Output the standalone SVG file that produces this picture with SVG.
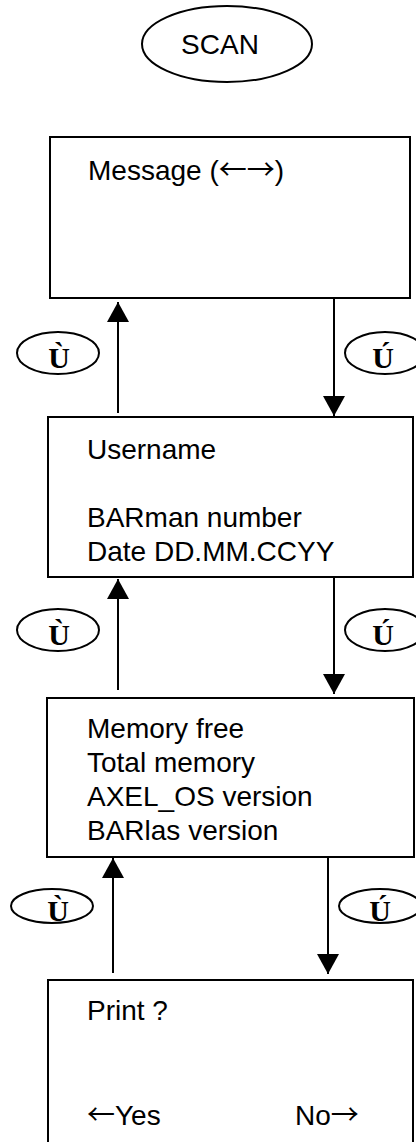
<svg xmlns="http://www.w3.org/2000/svg" width="416" height="1142" viewBox="0 0 416 1142">
<style>
.box{fill:#fff;stroke:#000;stroke-width:2}
.ell{fill:#fff;stroke:#000;stroke-width:2}
.t{font-family:"Liberation Sans",Arial,sans-serif;font-size:28px;fill:#000}
.ar{font-family:"Noto Sans CJK JP",sans-serif;font-size:28px}
.k{font-family:"Liberation Serif","Times New Roman",serif;font-size:30px;font-weight:bold;fill:#000;text-anchor:middle}
.ln{stroke:#000;stroke-width:2;fill:none}
</style>
<defs>
<marker id="ah" viewBox="0 0 20 22" refX="20" refY="11" markerWidth="20" markerHeight="22" markerUnits="userSpaceOnUse" orient="auto">
<path d="M0,0 L20,11 L0,22 Z" fill="#000"/>
</marker>
</defs>
<rect width="416" height="1142" fill="#fff"/>
<g id="scan">
<ellipse class="ell" cx="227" cy="44" rx="85" ry="38"/>
<text class="t" x="220" y="54" text-anchor="middle">SCAN</text>
</g>
<g id="message">
<rect class="box" x="50" y="137" width="360" height="161"/>
<text class="t" x="88" y="180">Message (<tspan class="ar">←→</tspan>)</text>
</g>
<g id="user">
<rect class="box" x="48" y="417" width="365" height="160"/>
<text class="t" x="87" y="459">Username</text>
<text class="t" x="87" y="527">BARman number</text>
<text class="t" x="87" y="561">Date DD.MM.CCYY</text>
</g>
<g id="memory">
<rect class="box" x="47" y="698" width="367" height="159"/>
<text class="t" x="87" y="738">Memory free</text>
<text class="t" x="87" y="772">Total memory</text>
<text class="t" x="87" y="806">AXEL_OS version</text>
<text class="t" x="87" y="840">BARlas version</text>
</g>
<g id="print">
<rect class="box" x="48" y="980" width="365" height="200"/>
<text class="t" x="87" y="1020">Print ?</text>
<text class="t" x="87" y="1125"><tspan class="ar">←</tspan>Yes</text>
<text class="t" x="295" y="1125">No<tspan class="ar">→</tspan></text>
</g>
<g id="connectors">
<line class="ln" x1="118" y1="413" x2="118" y2="302" marker-end="url(#ah)"/>
<line class="ln" x1="334" y1="298" x2="334" y2="416" marker-end="url(#ah)"/>
<line class="ln" x1="118" y1="690" x2="118" y2="579" marker-end="url(#ah)"/>
<line class="ln" x1="334" y1="577" x2="334" y2="694" marker-end="url(#ah)"/>
<line class="ln" x1="113" y1="973" x2="113" y2="858" marker-end="url(#ah)"/>
<line class="ln" x1="328" y1="857" x2="328" y2="974" marker-end="url(#ah)"/>
</g>
<g id="key-up-1"><ellipse class="ell" cx="58" cy="353" rx="41" ry="21"/><text class="k" x="59" y="368">Ù</text></g>
<g id="key-down-1"><ellipse class="ell" cx="385" cy="353" rx="40" ry="21"/><text class="k" x="383" y="368">Ú</text></g>
<g id="key-up-2"><ellipse class="ell" cx="58" cy="630" rx="41" ry="21"/><text class="k" x="59" y="645">Ù</text></g>
<g id="key-down-2"><ellipse class="ell" cx="385" cy="630" rx="40" ry="21"/><text class="k" x="383" y="645">Ú</text></g>
<g id="key-up-3"><ellipse class="ell" cx="52" cy="906" rx="41" ry="17"/><text class="k" x="58" y="921">Ù</text></g>
<g id="key-down-3"><ellipse class="ell" cx="380" cy="906" rx="41" ry="17"/><text class="k" x="380" y="921">Ú</text></g>
</svg>
